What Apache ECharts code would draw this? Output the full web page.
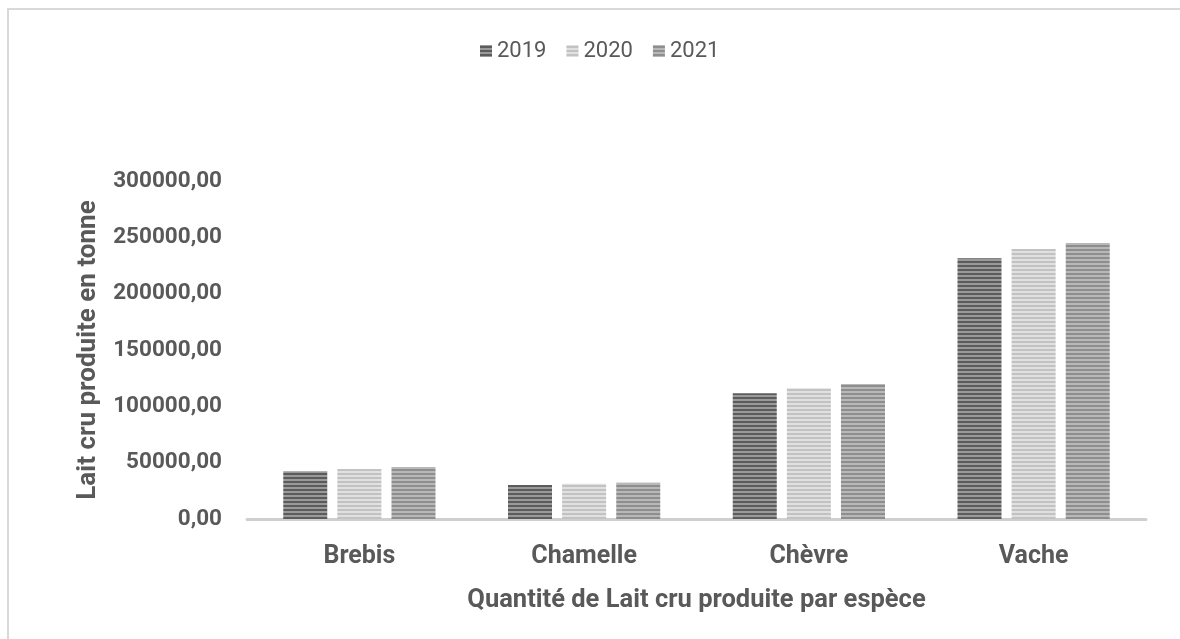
<!DOCTYPE html>
<html><head><meta charset="utf-8">
<script src="https://cdn.jsdelivr.net/npm/echarts@6/dist/echarts.min.js"></script>
<style>html,body{margin:0;padding:0;background:#fff}#c{width:1180px;height:639px}</style>
</head><body><div id="c"></div>
<script>
var categories = ['Brebis', 'Chamelle', 'Chèvre', 'Vache'];
var years = ['2019', '2020', '2021'];
var v2019 = [42300, 30200, 111600, 231400];
var v2020 = [44400, 31300, 116000, 239600];
var v2021 = [46200, 32200, 119800, 245000];
var yTicks = [0, 50000, 100000, 150000, 200000, 250000, 300000];

function stripes(dark, light) {
  var c = document.createElement('canvas');
  c.width = 4; c.height = 4;
  var g = c.getContext('2d');
  g.fillStyle = light; g.fillRect(0, 0, 4, 4);
  g.fillStyle = dark; g.fillRect(0, 1, 4, 2);
  return { image: c, repeat: 'repeat' };
}
var fills = [stripes('#5c5c5c', '#9a9a9a'), stripes('#c2c2c2', '#e0e0e0'), stripes('#8e8e8e', '#b8b8b8')];
var values = [v2019, v2020, v2021];

var chart = echarts.init(document.getElementById('c'));
var series = years.map(function (y, i) {
  return {
    name: y, type: 'bar', data: values[i], barWidth: 44, barGap: '23%',
    itemStyle: { color: fills[i] }
  };
});
chart.setOption({
  animation: false,
  backgroundColor: '#fff',
  graphic: [{ type: 'rect', shape: { x: 8, y: 9, width: 1400, height: 900 }, style: { fill: 'none', stroke: '#d9d9d9', lineWidth: 2 } }],
  legend: {
    top: 35, left: 475, icon: 'rect', itemWidth: 12, itemHeight: 12, itemGap: 20,
    textStyle: { fontFamily: 'Roboto', fontSize: 22, color: '#595959' },
    data: years
  },
  grid: { left: 247, right: 34, top: 181, bottom: 120 },
  xAxis: {
    type: 'category', data: categories,
    axisLine: { lineStyle: { color: '#cfcfcf', width: 3 } },
    axisTick: { show: false },
    axisLabel: { margin: 25, fontFamily: 'Roboto', fontWeight: 'bold', fontSize: 25, color: '#595959' },
    name: 'Quantité de Lait cru produite par espèce', nameLocation: 'middle', nameGap: 69,
    nameTextStyle: { fontFamily: 'Roboto', fontWeight: 'bold', fontSize: 25.5, color: '#595959' }
  },
  yAxis: {
    type: 'value', min: yTicks[0], max: yTicks[yTicks.length - 1], interval: yTicks[1] - yTicks[0],
    splitLine: { show: false }, axisLine: { show: false }, axisTick: { show: false },
    axisLabel: {
      margin: 25, fontFamily: 'Roboto', fontWeight: 'bold', fontSize: 22.5, color: '#595959',
      formatter: function (v) { return v.toFixed(2).replace('.', ','); }
    },
    name: 'Lait cru produite en tonne', nameLocation: 'middle', nameGap: 146,
    nameTextStyle: { fontFamily: 'Roboto', fontWeight: 'bold', fontSize: 26, color: '#595959' }
  },
  series: series
});
</script></body></html>
